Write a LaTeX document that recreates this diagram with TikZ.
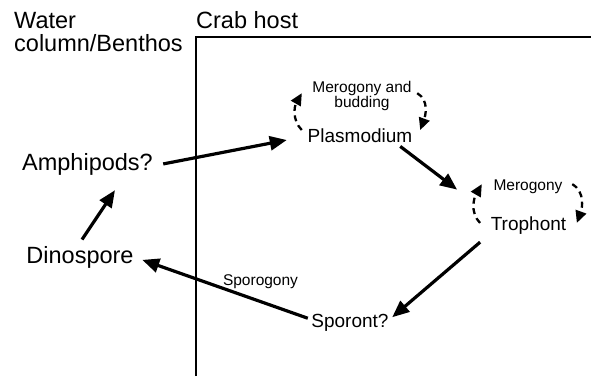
\documentclass[tikz,border=0pt]{standalone}
\usepackage{fontspec}
\setmainfont{Liberation Sans}
\usepackage{tikz}
\usetikzlibrary{arrows.meta}

\begin{document}
\begin{tikzpicture}
    [
        x = 1pt, y = 1pt,
        header/.style = {inner sep = 0, font = \fontsize{23.5}{22.5}\selectfont},
        stage/.style = {inner sep = 0, anchor = base, font = \fontsize{19}{19}\selectfont},
        bigstage/.style = {stage, font = \fontsize{23.5}{23.5}\selectfont},
        process/.style = {inner sep = 0, anchor = base, align = center, font = \fontsize{15.5}{15.5}\selectfont},
        arrow/.style = {line width = 3.2pt, -{Triangle[length = 17pt, width = 14pt]}},
        cycle/.style = {line width = 2.3pt, dash pattern = on 6pt off 4.5pt, -{Triangle[length = 12pt, width = 11pt]}}
    ]
                \useasboundingbox (0,0) rectangle (591,376);

                % Draw the two compartments:
                \node [header, anchor = north west, align = left] (water) at (14,363.5) {Water\\column/Benthos};
                \node [header, anchor = base west] (crab) at (196,348) {Crab host};
                \draw [line width = 2pt] (196,0) -- (196,339) -- (591,339);

                % Draw the stages:
                \node [bigstage] (amphipods) at (87.5,206) {Amphipods?};
                \node [bigstage] (dinospore) at (80,113) {Dinospore};
                \node [stage] (plasmodium) at (360,234) {Plasmodium};
                \node [stage] (trophont) at (528.5,146) {Trophont};
                \node [stage] (sporont) at (350,49) {Sporont?};

                % Draw the processes:
                \node [process, anchor = north] (budding) at (362,295) {Merogony and\\budding};
                \node [process] (merogony) at (528,186) {Merogony};
                \node [process] (sporogony) at (260.5,91) {Sporogony};

                % Draw the life cycle:
                \draw [arrow] ([shift = {(10.2pt,0pt)}]amphipods.east) -- ([shift = {(-20.75pt,-4.8pt)}]plasmodium.west);
                \draw [arrow] ([shift = {(2pt,6.2pt)}]dinospore.north) -- ([shift = {(27.5pt,-15.1pt)}]amphipods.south);
                \draw [arrow] ([shift = {(-12.25pt,-4pt)}]plasmodium.south east) -- ([shift = {(-33.5pt,26.4pt)}]trophont.north west);
                \draw [arrow] ([shift = {(-10.5pt,-8pt)}]trophont.south west) -- ([shift = {(3.45pt,5.1pt)}]sporont.east);
                \draw [arrow] ([shift = {(-3.45pt,4.1pt)}]sporont.west) -- ([shift = {(8.5pt,-2.95pt)}]dinospore.east);

                % Draw the multiplication loops:
                \draw [cycle] ([shift = {(-5.75pt,5.2pt)}]plasmodium.west) to [out = 135, in = 240] ([shift = {(-10.45pt,3pt)}]budding.west);
                \draw [cycle] ([shift = {(5.45pt,3pt)}]budding.east) to [out = -30, in = 70] ([shift = {(7.75pt,5.2pt)}]plasmodium.east);
                \draw [cycle] ([shift = {(-10.5pt,2.2pt)}]trophont.west) to [out = 135, in = 240] ([shift = {(-11.55pt,2.1pt)}]merogony.west);
                \draw [cycle] ([shift = {(9.55pt,2.1pt)}]merogony.east) to [out = -30, in = 70] ([shift = {(10.5pt,2.2pt)}]trophont.east);
\end{tikzpicture}
\end{document}
